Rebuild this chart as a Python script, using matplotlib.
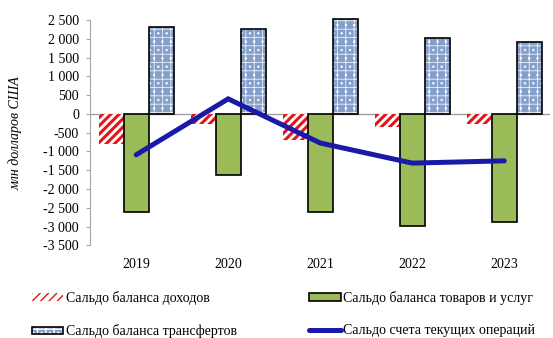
import matplotlib.pyplot as plt
import matplotlib
import numpy as np
from matplotlib.patches import Patch
from matplotlib.lines import Line2D
from matplotlib.legend_handler import HandlerTuple
from matplotlib.ticker import FuncFormatter

matplotlib.rcParams['font.family'] = ['Liberation Serif', 'DejaVu Serif']
matplotlib.rcParams['font.size'] = 10

years = ['2019', '2020', '2021', '2022', '2023']
income = [-790, -260, -700, -360, -270]
goods = [-2600, -1640, -2610, -2980, -2890]
transfers = [2300, 2270, 2530, 2010, 1910]
current = [-1090, 400, -775, -1310, -1250]

red = '#E0161B'
green = '#9BBB59'
blue = '#859FCB'
navy = '#1A1AA8'

fig = plt.figure(figsize=(5.53, 3.38), dpi=100)
ax = fig.add_axes([0.163, 0.274, 0.832, 0.667])

x = np.arange(len(years))
w = 0.272

with matplotlib.rc_context({'hatch.linewidth': 2.2}):
    ax.bar(x - w, income, w, facecolor='white', edgecolor=red, hatch='////', linewidth=0, zorder=2)
    h_income = Patch(facecolor='white', edgecolor=red, hatch='////', linewidth=0)
ax.bar(x, goods, w, facecolor=green, edgecolor='black', linewidth=1.2, zorder=2)
with matplotlib.rc_context({'hatch.linewidth': 0.5}):
    ax.bar(x + w, transfers, w, facecolor=blue, edgecolor='white', hatch='++..', linewidth=0,
           zorder=2, clip_on=False)
    h_tr_fill = Patch(facecolor=blue, edgecolor='white', hatch='++..', linewidth=0)
ax.bar(x + w, transfers, w, fill=False, edgecolor='black', linewidth=1.2, zorder=3, clip_on=False)
ax.plot(x, current, color=navy, linewidth=3.6, solid_capstyle='round', solid_joinstyle='miter', zorder=4)

ax.axhline(0, color='#A0A0A0', linewidth=1, zorder=1)

ax.set_xlim(-0.5, len(years) - 0.5)
ax.set_ylim(-3500, 2500)
ax.set_yticks(np.arange(-3500, 2501, 500))
ax.yaxis.set_major_formatter(FuncFormatter(lambda v, p: f'{int(v):,}'.replace(',', ' ')))
ax.set_xticks(x)
ax.set_xticklabels(years)
ax.tick_params(axis='x', length=0, pad=9)
ax.tick_params(axis='y', length=3, color='#A6A6A6', direction='out', pad=5)

for s in ['top', 'right', 'bottom']:
    ax.spines[s].set_visible(False)
ax.spines['left'].set_color('#A6A6A6')

ax.set_ylabel('млн долларов США', style='italic', va='center')
ax.yaxis.set_label_coords(-0.163, 0.5)

h_goods = Patch(facecolor=green, edgecolor='black', linewidth=1.2)
h_tr = (h_tr_fill, Patch(fill=False, edgecolor='black', linewidth=1.2))
h_cur = Line2D([0], [0], color=navy, linewidth=3.6, solid_capstyle='round')

fig.legend([h_income, h_tr, h_goods, h_cur],
           ['Сальдо баланса доходов', 'Сальдо баланса трансфертов',
            'Сальдо баланса товаров и услуг', 'Сальдо счета текущих операций'],
           handler_map={tuple: HandlerTuple(ndivide=1, pad=0)},
           ncol=2, frameon=False, loc='upper left', bbox_to_anchor=(0.057, 0.14),
           handlelength=2.3, handleheight=0.5, handletextpad=0.15,
           labelspacing=1.42, columnspacing=5.2, borderaxespad=0, borderpad=0)

fig.savefig('out.png', dpi=100)
